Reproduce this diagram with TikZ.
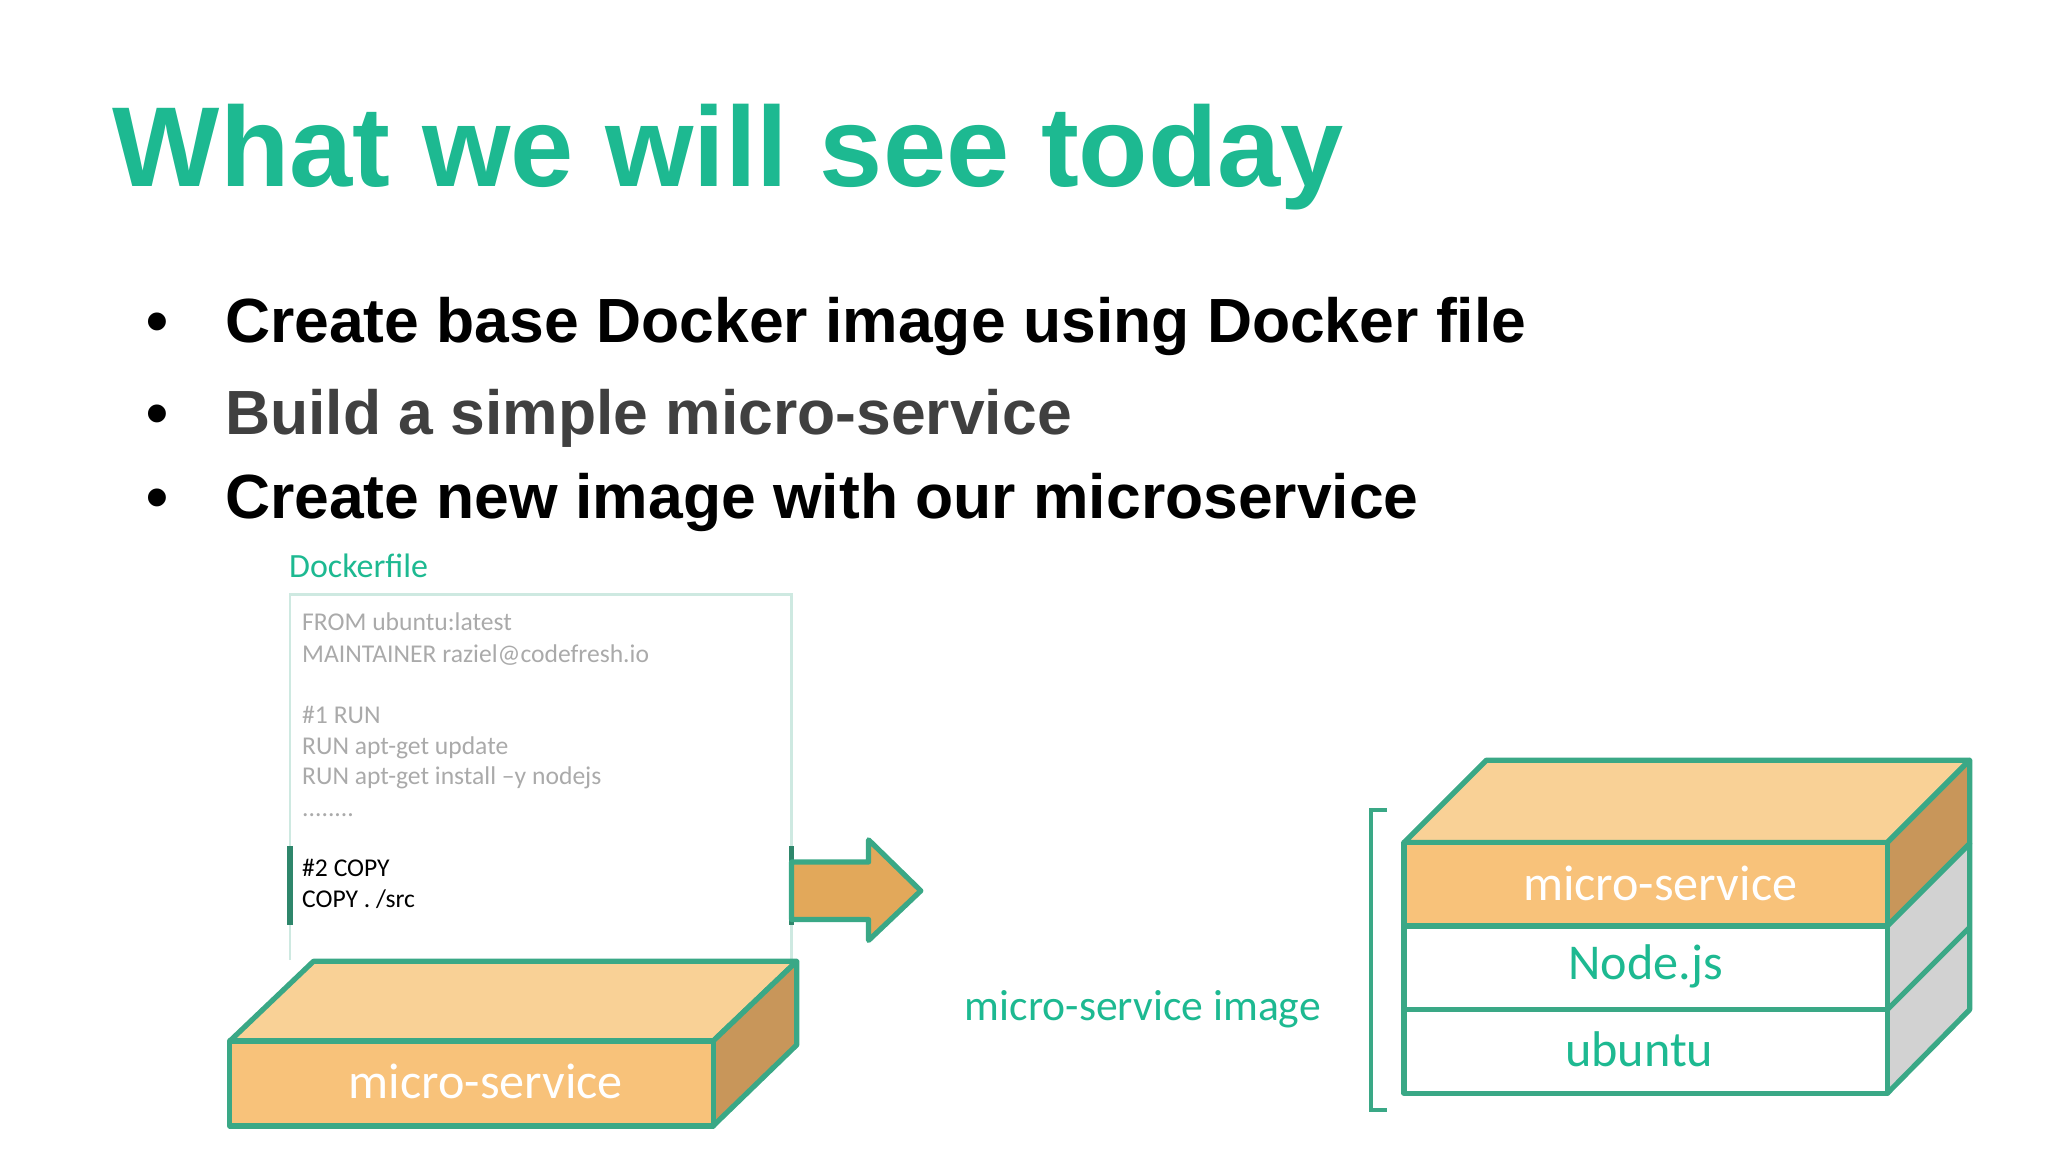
\documentclass[tikz,border=0pt]{standalone}
\usepackage{fontspec}
\setmainfont{Liberation Sans}
\newfontfamily\carl{Carlito}
\definecolor{teal1}{RGB}{29,185,145}
\definecolor{edge}{RGB}{58,168,134}
\definecolor{ofront}{RGB}{248,194,122}
\definecolor{otop}{RGB}{249,209,150}
\definecolor{oside}{RGB}{200,150,90}
\definecolor{gside}{RGB}{210,210,210}
\definecolor{arrowc}{RGB}{226,168,90}
\definecolor{codeg}{RGB}{170,170,170}
\tikzset{face/.style={draw=edge,line width=2pt,line join=round},
 code/.style={anchor=base west,font=\carl\fontsize{9.8}{11}\selectfont,text=codeg,inner sep=0},
 bul/.style={anchor=base west,font=\bfseries\fontsize{23.9}{28}\selectfont,inner sep=0},
 lab/.style={font=\carl\fontsize{19.2}{22}\selectfont}}
\begin{document}
\begin{tikzpicture}[x=0.5pt,y=-0.5pt]
\useasboundingbox (0,0) rectangle (1568,882);
\node (title) [anchor=base west,inner sep=0,text=teal1,font=\bfseries\fontsize{43.5}{50}\selectfont] at (86,143) {What we will see today};
\node (b1d) [bul] at (112,262) {•};
\node (b1) [bul] at (172,262) {Create base Docker image using Docker file};
\node (b2d) [bul] at (112,333) {•};
\node (b2) [bul,text=black!75] at (172,333) {Build a simple micro-service};
\node (b3d) [bul] at (112,397) {•};
\node (b3) [bul] at (172,397) {Create new image with our microservice};
% dockerfile
\node (dl) [anchor=base west,inner sep=0,text=teal1,font=\carl\fontsize{13}{14}\selectfont] at (221,442) {Dockerfile};
\draw[draw=edge!25,line width=1pt] (222,735) -- (222,455) -- (606,455) -- (606,735);
\node (c1) [code] at (231,483) {FROM ubuntu:latest};
\node (c2) [code] at (231,507) {MAINTAINER raziel@codefresh.io};
\node (c3) [code] at (231,554) {\#1 RUN};
\node (c4) [code] at (231,578) {RUN apt-get update};
\node (c5) [code] at (231,601) {RUN apt-get install –y nodejs};
\node (c6) [code] at (231,625) {........};
\node (c7) [code,text=black] at (231,671) {\#2 COPY};
\node (c8) [code,text=black] at (231,695) {COPY . /src};
\draw[edge!80!black,line width=2pt] (222,648) -- (222,708);
\draw[edge!80!black,line width=2pt] (606,648) -- (606,708);
\draw[face,fill=arrowc] (606,660) -- (665,660) -- (665,643) -- (705,682) -- (665,720) -- (665,704) -- (606,704) -- cycle;
% left box
\draw[face,fill=otop] (176,797) -- (240,736) -- (610,736) -- (546,797) -- cycle;
\draw[face,fill=oside] (546,797) -- (610,736) -- (610,800) -- (546,862) -- cycle;
\draw[face,fill=ofront] (176,797) rectangle (546,862);
\node (lb) [lab,text=white] at (372,828) {micro-service};
% right stack
\draw[face,fill=otop] (1075,645) -- (1138,582) -- (1508,582) -- (1445,645) -- cycle;
\draw[face,fill=oside] (1445,645) -- (1508,582) -- (1508,646) -- (1445,709) -- cycle;
\draw[face,fill=gside] (1445,709) -- (1508,646) -- (1508,773) -- (1445,837) -- cycle;
\draw[face] (1445,773) -- (1508,710);
\draw[face,fill=ofront] (1075,645) rectangle (1445,709);
\draw[face,fill=white] (1075,709) rectangle (1445,773);
\draw[face,fill=white] (1075,773) rectangle (1445,837);
\node (r1) [lab,text=white] at (1271,676) {micro-service};
\node (r2) [lab,text=teal1] at (1260,740) {Node.js};
\node (r3) [lab,text=teal1] at (1255,803) {ubuntu};
\draw[edge,line width=1.5pt] (1062,620) -- (1050,620) -- (1050,850) -- (1062,850);
\node (img) [text=teal1,font=\carl\fontsize{16.7}{18}\selectfont] at (875,773) {micro-service image};
\end{tikzpicture}
\end{document}
